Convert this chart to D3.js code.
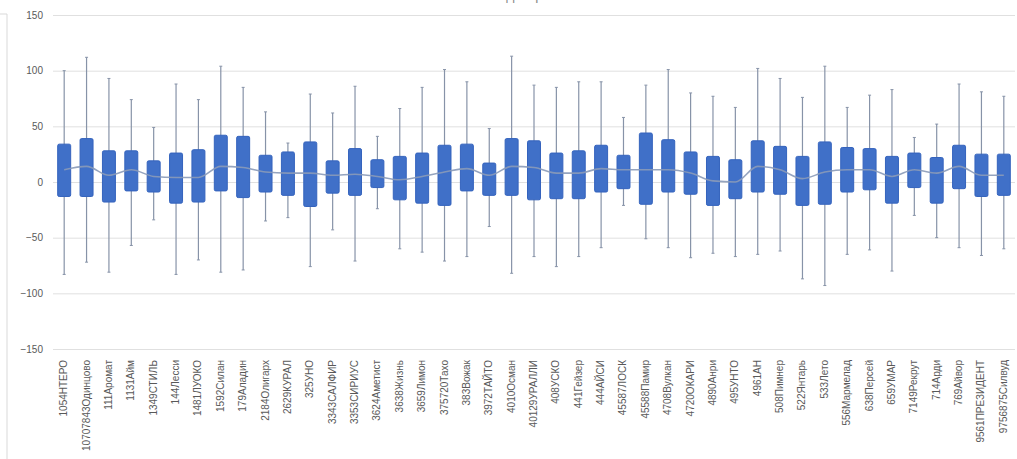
<!DOCTYPE html>
<html><head><meta charset="utf-8">
<script src="https://cdn.jsdelivr.net/npm/d3@7"></script>
<style>body{margin:0;background:#fff;}svg{display:block;font-family:"Liberation Sans","DejaVu Sans",sans-serif;}</style>
</head><body><svg id="c" width="1017" height="459"></svg>
<script>
const categories = ["1054НТЕРО","10707843Одинцово","111Аромат","1131Айм","1349СТИЛЬ","144Лесси","1481ЛУОКО","1592Силан","179Аладин","2184Олигарх","2629КУРАЛ","325УНО","3343САЛФИР","3353СИРИУС","3624Аметист","3638Жизнь","3659Лимон","375720Тахо","383Вожак","3972ТАЙТО","4010Осман","40129УРАЛЛИ","408УСКО","441Гейзер","444АЙСИ","45587ЛОСК","45588Памир","4708Вулкан","4720ОКАРИ","4890Анри","495УНТО","4961АН","508Пимнер","522Янтарь","533Лето","556Мармелад","638Персей","659УМАР","7149Рекрут","714Арди","769Айвор","9561ПРЕЗИДЕНТ","9756875Силвуд"];
const maxV = [100,112,93,74,49,88,74,104,85,63,35,79,62,86,41,66,85,101,90,48,113,87,85,90,90,58,87,101,80,77,67,102,93,76,104,67,78,83,40,52,88,81,77];
const q3V  = [34,39,28,28,19,26,29,42,41,24,27,36,19,30,20,23,26,33,34,17,39,37,26,28,33,24,44,38,27,23,20,37,32,23,36,31,30,23,26,22,33,25,25];
const meanV= [11,14,6,11,5,4,4,14,13,9,8,8,6,7,5,2,5,9,12,6,14,13,8,8,12,11,11,11,8,1,0,14,11,3,9,11,11,5,11,8,14,6,6];
const q1V  = [-13,-13,-18,-8,-9,-19,-18,-8,-14,-9,-12,-22,-10,-12,-5,-16,-19,-21,-8,-12,-12,-16,-15,-15,-9,-6,-20,-9,-11,-21,-15,-9,-11,-21,-20,-9,-7,-19,-5,-19,-6,-13,-12];
const minV = [-83,-72,-81,-57,-34,-83,-70,-81,-79,-35,-32,-76,-43,-71,-24,-60,-63,-71,-67,-40,-82,-67,-76,-67,-59,-21,-51,-59,-68,-64,-67,-65,-62,-87,-93,-65,-61,-80,-30,-50,-59,-66,-60];
const yTicks = [150,100,50,0,-50,-100,-150];
const title = "Название диаграммы";

const svg = d3.select("#c");
const L = 53, R = 1015, T = 15, B = 349;
const x = d3.scaleBand().domain(categories).range([L, R]).paddingInner(0.42).paddingOuter(0.21);
const y = d3.scaleLinear().domain([-150,150]).range([B, T]);

svg.append("path").attr("d","M0,14H7V459").attr("fill","none").attr("stroke","#d9d9d9");

svg.append("text").attr("x",510).attr("y",0).attr("text-anchor","middle")
  .attr("font-size",14).attr("fill","#8c8c8c").text(title);

svg.append("g").selectAll("line").data(yTicks).join("line")
  .attr("x1",L).attr("x2",R).attr("y1",d=>y(d)+0.5).attr("y2",d=>y(d)+0.5)
  .attr("stroke","#e0e0e0").attr("stroke-width",1);

const yAxis = d3.axisLeft(y).tickValues(yTicks).tickSize(0).tickPadding(10);
const gy = svg.append("g").attr("transform",`translate(${L},0)`).call(yAxis);
gy.select(".domain").remove();
gy.selectAll("text").attr("font-size",10).attr("fill","#595959").attr("font-family","Liberation Sans, sans-serif");

const xAxis = d3.axisBottom(x).tickSize(0).tickPadding(0);
const gx = svg.append("g").attr("transform",`translate(0,${B})`).call(xAxis);
gx.select(".domain").remove();
gx.selectAll("text").attr("font-size",10).attr("fill","#595959")
  .attr("text-anchor","end").attr("transform","translate(3,11) rotate(-90)").attr("dy","0").attr("y",0).attr("x",0);

const data = categories.map((c,i)=>({c,max:maxV[i],q3:q3V[i],mean:meanV[i],q1:q1V[i],min:minV[i]}));
const bw = x.bandwidth();
const g = svg.append("g");
g.selectAll(".wh").data(data).join("line")
  .attr("x1",d=>x(d.c)+bw/2).attr("x2",d=>x(d.c)+bw/2)
  .attr("y1",d=>y(d.max)).attr("y2",d=>y(d.min))
  .attr("stroke","#8793a8").attr("stroke-width",1.2);
g.selectAll(".capT").data(data).join("line")
  .attr("x1",d=>x(d.c)+bw/2-1.5).attr("x2",d=>x(d.c)+bw/2+1.5)
  .attr("y1",d=>y(d.max)).attr("y2",d=>y(d.max)).attr("stroke","#8793a8");
g.selectAll(".capB").data(data).join("line")
  .attr("x1",d=>x(d.c)+bw/2-1.5).attr("x2",d=>x(d.c)+bw/2+1.5)
  .attr("y1",d=>y(d.min)).attr("y2",d=>y(d.min)).attr("stroke","#8793a8");
g.selectAll("rect").data(data).join("rect")
  .attr("x",d=>x(d.c)).attr("width",bw)
  .attr("y",d=>y(d.q3)).attr("height",d=>y(d.q1)-y(d.q3))
  .attr("fill","#4070c8").attr("stroke","#3463bd").attr("stroke-width",1).attr("rx",1.5);
const line = d3.line().x(d=>x(d.c)+bw/2).y(d=>y(d.mean)).curve(d3.curveMonotoneX);
svg.append("path").datum(data).attr("d",line).attr("fill","none")
  .attr("stroke","#8a9ab8").attr("stroke-width",1.6).attr("opacity",0.9);
</script></body></html>
